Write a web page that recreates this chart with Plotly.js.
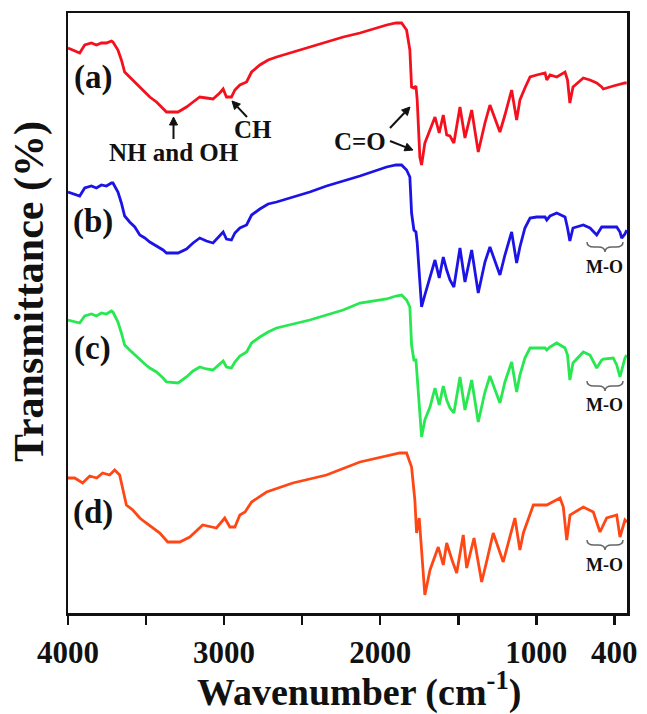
<!DOCTYPE html>
<html>
<head>
<meta charset="utf-8">
<script src="https://cdn.plot.ly/plotly-3.0.1.min.js"></script>
<style>
html,body{margin:0;padding:0;background:#ffffff;}
#chart{width:647px;height:714px;}
</style>
</head>
<body>
<div id="chart"></div>
<script>
// Shared wavenumber grid (cm^-1) for spectra (a), (b), (c)
const wavenumber = [
  4000, 3925, 3893, 3850, 3818, 3786, 3754, 3722, 3712,
  3680, 3658, 3637, 3605, 3572, 3540, 3508, 3476, 3433, 3391, 3369,
  3295, 3241, 3199, 3156, 3113, 3071, 3028, 3006, 2985, 2953, 2931, 2899, 2856, 2824,
  2771, 2718, 2664, 2558, 2451, 2344, 2237, 2130, 1959, 1899, 1863, 1831,
  1810, 1799, 1784, 1771, 1763, 1746, 1735, 1714, 1681, 1649, 1622, 1596, 1574,
  1553, 1528, 1489, 1457, 1414, 1372, 1329, 1297, 1265, 1233, 1201, 1158, 1126, 1105, 1073, 1040,
  998, 944, 933, 912, 869, 816, 800, 785, 765, 699, 656, 613, 581, 571, 507, 485, 464, 453, 432, 421
];

// Transmittance (offset, arbitrary units) for each spectrum
const transA = [
  565, 560, 568, 570, 568, 570, 570, 572, 571,
  563, 553, 541, 536, 531, 526, 521, 516, 511, 505, 501,
  501, 506, 511, 516, 515, 514, 520, 524, 516, 516, 523, 528, 531, 541,
  548, 553, 556, 561, 566, 571, 576, 580, 588, 590, 590, 583,
  563, 526, 525, 527, 513, 456, 448, 470, 483, 496, 480, 498, 478,
  477, 470, 506, 475, 503, 461, 490, 508, 495, 481, 498, 523, 493, 513, 525, 536,
  538, 540, 533, 538, 536, 541, 533, 510, 526, 535, 533, 530, 526, 524, 527, 528, 529, 529, 530, 530
];
const transB = [
  421, 417, 425, 427, 425, 428, 427, 430, 430,
  421, 410, 397, 391, 386, 378, 375, 371, 367, 363, 360,
  360, 364, 370, 375, 372, 370, 377, 381, 374, 373, 380, 385, 388, 398,
  404, 409, 411, 416, 421, 427, 432, 437, 446, 448, 448, 443,
  436, 400, 383, 381, 370, 330, 306, 318, 336, 353, 335, 356, 343,
  333, 326, 365, 331, 363, 320, 351, 366, 351, 338, 358, 381, 350, 366, 385, 395,
  396, 396, 393, 397, 400, 396, 385, 372, 385, 388, 385, 378, 386, 386, 386, 386, 381, 375, 379, 383
];
const transC = [
  293, 290, 297, 299, 297, 300, 299, 302, 301,
  291, 280, 268, 263, 258, 253, 249, 245, 241, 235, 231,
  230, 236, 242, 246, 244, 243, 249, 252, 246, 245, 251, 257, 261, 270,
  276, 281, 285, 289, 293, 298, 303, 310, 314, 317, 318, 313,
  306, 268, 253, 253, 238, 200, 176, 193, 206, 225, 208, 227, 213,
  205, 200, 236, 203, 233, 191, 221, 237, 223, 210, 231, 251, 221, 238, 255, 265,
  265, 265, 263, 266, 270, 265, 258, 233, 250, 261, 258, 245, 253, 254, 255, 248, 236, 243, 255, 258
];

// Spectrum (d) read on its own wavenumber points
const wavenumberD = [
  4000, 3957, 3906, 3861, 3816, 3778, 3733, 3701, 3669, 3626,
  3585, 3540, 3508, 3457, 3412, 3361, 3284, 3220, 3137, 3049,
  2996, 2963, 2931, 2899, 2866, 2824, 2728, 2560, 2344, 2130,
  1938, 1874, 1831, 1799, 1778, 1767, 1750, 1735, 1714, 1681,
  1656, 1628, 1596, 1574, 1540, 1510, 1468, 1446, 1399, 1350,
  1316, 1276, 1212, 1137, 1105, 1083, 1019, 933, 848, 827,
  805, 784, 699, 635, 592, 549, 485, 464, 432, 419
];
const transD = [
  135, 135, 130, 137, 135, 140, 138, 143, 138, 108,
  103, 95, 91, 85, 80, 71, 71, 76, 88, 85,
  95, 86, 86, 98, 101, 111, 121, 130, 138, 151,
  158, 160, 160, 146, 113, 80, 95, 66, 18, 43,
  53, 66, 48, 70, 53, 40, 78, 45, 75, 31,
  53, 80, 51, 95, 63, 80, 108, 108, 115, 106,
  73, 98, 106, 101, 81, 95, 98, 76, 93, 91
];

const seriesLabels = ['(a)', '(b)', '(c)', '(d)'];
const seriesColors = ['#f4111d', '#1c14e6', '#27e850', '#ff4716'];
const xTickVals = [4000, 3000, 2000, 1000, 500];
const xTickText = ['4000', '3000', '2000', '1000', '400'];
const xMinorTickVals = [3500, 2500, 1500];
const xTitle = 'Wavenumber (cm<sup>-1</sup>)';
const yTitle = 'Transmittance (%)';
const peakLabels = ['NH and OH', 'CH', 'C=O', 'M-O'];

const serif = '"Liberation Serif", "Times New Roman", Times, serif';
const xs = [wavenumber, wavenumber, wavenumber, wavenumberD];
const ys = [transA, transB, transC, transD];

const traces = ys.map((y, i) => ({
  x: xs[i], y: y, type: 'scatter', mode: 'lines', name: seriesLabels[i],
  line: {color: seriesColors[i], width: 2.8, shape: 'linear'},
  hoverinfo: 'skip'
}));

// page layout helpers (plot area: x 68..627, y 13..613)
const PL = 68, PR = 627, PT = 13, PB = 613;
function px(x) { return (x - PL) / (PR - PL); }
function py(y) { return (PB - y) / (PB - PT); }

function txt(text, x, y, size, extra) {
  return Object.assign({
    text: text, xref: 'paper', yref: 'paper', x: px(x), y: py(y),
    showarrow: false, xanchor: 'center', yanchor: 'middle',
    font: {family: serif, size: size, color: '#111', weight: 'bold'}
  }, extra || {});
}

function arrowShapes(tx, ty, hx, hy) {
  const dx = hx - tx, dy = hy - ty, L = Math.hypot(dx, dy);
  const ux = dx / L, uy = dy / L, hl = 8, hw = 4;
  const bx = hx - ux * hl, by = hy - uy * hl;
  const p1x = bx - uy * hw, p1y = by + ux * hw;
  const p2x = bx + uy * hw, p2y = by - ux * hw;
  return [
    {type: 'line', xref: 'paper', yref: 'paper', x0: px(tx), y0: py(ty), x1: px(bx), y1: py(by),
     line: {color: '#111', width: 2}},
    {type: 'path', xref: 'paper', yref: 'paper',
     path: `M ${px(hx)},${py(hy)} L ${px(p1x)},${py(p1y)} L ${px(p2x)},${py(p2y)} Z`,
     fillcolor: '#111', line: {color: '#111', width: 1}}
  ];
}

function brace(x0, x1, y) {
  const h = 5, d = 7, c = (x0 + x1) / 2;
  const P = (a, b) => `${px(a)},${py(b)}`;
  return {
    type: 'path', xref: 'paper', yref: 'paper',
    path: `M ${P(x0, y - h)} Q ${P(x0, y)} ${P(x0 + d, y)} L ${P(c - d, y)} Q ${P(c, y)} ${P(c, y + h)} ` +
          `Q ${P(c, y)} ${P(c + d, y)} L ${P(x1 - d, y)} Q ${P(x1, y)} ${P(x1, y - h)}`,
    line: {color: '#666', width: 1.5}
  };
}

const annotations = [
  txt(seriesLabels[0], 93, 77, 33),
  txt(seriesLabels[1], 93, 221, 33),
  txt(seriesLabels[2], 92, 348, 33),
  txt(seriesLabels[3], 93, 512, 33),
  txt(peakLabels[0], 174, 152, 25),
  txt(peakLabels[1], 253, 130, 25),
  txt(peakLabels[2], 360, 141, 25),
  txt(peakLabels[3], 604, 267, 18),
  txt(peakLabels[3], 604, 405, 18),
  txt(peakLabels[3], 604, 565, 18),
  txt(yTitle, 29, 292, 42, {textangle: -90}),
  txt(xTitle, 359, 689, 38)
];

const shapes = [].concat(
  arrowShapes(173.5, 139, 173.5, 117),
  arrowShapes(247, 117, 232, 101),
  arrowShapes(390, 128, 410, 107),
  arrowShapes(390, 141, 413, 150),
  [brace(587, 623, 247), brace(587, 623, 386), brace(587, 623, 545)]
);

const layout = {
  width: 647, height: 714,
  margin: {l: PL, r: 647 - PR, t: PT, b: 714 - PB},
  paper_bgcolor: '#ffffff', plot_bgcolor: '#ffffff',
  showlegend: false,
  xaxis: {
    range: [4000, 419], autorange: false,
    tickmode: 'array', tickvals: xTickVals, ticktext: xTickText,
    ticks: 'outside', ticklen: 9, tickwidth: 2.5, tickcolor: '#111',
    ticklabelstandoff: 1,
    minor: {tickmode: 'array', tickvals: xMinorTickVals, ticks: 'outside',
            ticklen: 9, tickwidth: 2.5, tickcolor: '#111', showgrid: false},
    showline: true, linewidth: 2.5, linecolor: '#111', mirror: true,
    showgrid: false, zeroline: false,
    tickfont: {family: serif, size: 31, color: '#111', weight: 'bold'}
  },
  yaxis: {
    range: [0, 600], autorange: false,
    showticklabels: false, ticks: '',
    showline: true, linewidth: 2.5, linecolor: '#111', mirror: true,
    showgrid: false, zeroline: false
  },
  annotations: annotations,
  shapes: shapes
};

Plotly.newPlot('chart', traces, layout, {displayModeBar: false, staticPlot: true});
</script>
</body>
</html>
